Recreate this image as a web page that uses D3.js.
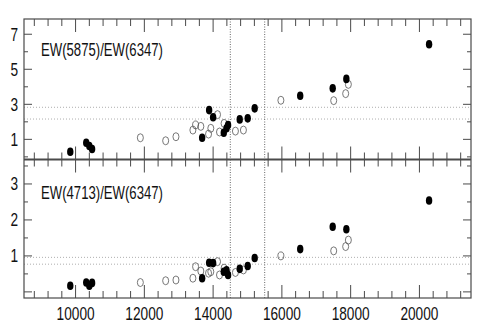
<!DOCTYPE html>
<html>
<head>
<meta charset="utf-8">
<script src="https://cdn.jsdelivr.net/npm/d3@7"></script>
<style>
  body { margin: 0; background: #fff; }
  svg { display: block; }
  text { font-family: "Liberation Sans", Arial, sans-serif; fill: #111; }
</style>
</head>
<body>
<div id="chart"></div>
<script>
// velocities of the filled (black) and open points, shared by both panels
const velFilled = [9846, 10310, 10400, 10480, 13681, 13884, 14000, 14310, 14390, 14435, 14774, 15006, 15209, 16533, 17478, 17875, 20281];
const velOpen   = [11884, 12620, 12919, 13412, 13490, 13643, 13867, 13933, 14128, 14186, 14319, 14649, 14881, 15971, 17507, 17855, 17933];

// EW(5875)/EW(6347)
const ratioTopFilled = [0.29, 0.81, 0.62, 0.45, 1.09, 2.67, 2.26, 1.38, 1.63, 1.82, 2.14, 2.20, 2.77, 3.49, 3.91, 4.45, 6.43];
const ratioTopOpen   = [1.09, 0.92, 1.15, 1.53, 1.82, 1.74, 1.30, 1.63, 2.41, 1.42, 1.91, 1.47, 1.53, 3.23, 3.21, 3.61, 4.14];

// EW(4713)/EW(6347)
const ratioBotFilled = [0.17, 0.26, 0.17, 0.25, 0.38, 0.81, 0.80, 0.56, 0.60, 0.47, 0.64, 0.72, 0.94, 1.19, 1.81, 1.74, 2.54];
const ratioBotOpen   = [0.26, 0.31, 0.33, 0.38, 0.70, 0.58, 0.52, 0.56, 0.84, 0.47, 0.66, 0.54, 0.61, 1.00, 1.14, 1.26, 1.44];

const xTickLabels = [10000, 12000, 14000, 16000, 18000, 20000];
const vLines = [14500, 15500];
const topRefLines = [2.83, 2.16];
const botRefLines = [0.96, 0.77];
const topYLabels = [1, 3, 5, 7];
const botYLabels = [1, 2, 3];

const W = 491, H = 327;
let m = { left: 24, right: 20, top: 19, bottom: 29 };
const mid = 159.5;
const frameColor = "#4a4a4a";

let svg = d3.select("#chart").append("svg")
    .attr("width", W)
    .attr("height", H);

let x = d3.scaleLinear().domain([8500, 21500]).range([m.left, W - m.right]);
let yTop = d3.scaleLinear().domain([-0.15, 7.87]).range([mid, m.top]);
let yBot = d3.scaleLinear().domain([-0.17, 3.68]).range([H - m.bottom, mid]);

// condensed-looking text (the original font is narrow)
function label(px, py, str, anchor, size, width) {
    let g = svg.append("g").attr("transform", "translate(" + px + "," + py + ") scale(0.76,1)");
    let t = g.append("text")
        .attr("text-anchor", anchor)
        .style("font-size", size + "px")
        .text(str);
    if (width) t.attr("textLength", width / 0.76).attr("lengthAdjust", "spacingAndGlyphs");
}

function panel(y, yTicks, isMajor, refLines, filledY, openY, yLabels, title, titleY) {
    let y0 = y.range()[0], y1 = y.range()[1];

    // dotted reference lines
    refLines.forEach((v) => {
        svg.append("line")
            .attr("x1", m.left).attr("x2", W - m.right)
            .attr("y1", y(v)).attr("y2", y(v))
            .attr("stroke", "#999")
            .attr("stroke-width", 0.8)
            .attr("stroke-dasharray", "1,2");
    });
    vLines.forEach((v) => {
        svg.append("line")
            .attr("x1", x(v)).attr("x2", x(v))
            .attr("y1", y1).attr("y2", y0)
            .attr("stroke", "#666")
            .attr("stroke-width", 1)
            .attr("stroke-dasharray", "1,1.5");
    });

    // x ticks on both edges of the panel, pointing inward
    d3.range(8800, 21500, 400).forEach((v) => {
        let len = (v % 2000 === 0) ? 13 : 7;
        svg.append("line")
            .attr("x1", x(v)).attr("x2", x(v))
            .attr("y1", y0).attr("y2", y0 - len)
            .attr("stroke", frameColor).attr("stroke-width", 1);
        svg.append("line")
            .attr("x1", x(v)).attr("x2", x(v))
            .attr("y1", y1).attr("y2", y1 + len)
            .attr("stroke", frameColor).attr("stroke-width", 1);
    });

    // y ticks left and right
    yTicks.forEach((v) => {
        let len = isMajor(v) ? 8 : 4;
        svg.append("line")
            .attr("x1", m.left).attr("x2", m.left + len)
            .attr("y1", y(v)).attr("y2", y(v))
            .attr("stroke", frameColor).attr("stroke-width", 1);
        svg.append("line")
            .attr("x1", W - m.right).attr("x2", W - m.right - len)
            .attr("y1", y(v)).attr("y2", y(v))
            .attr("stroke", frameColor).attr("stroke-width", 1);
    });

    yLabels.forEach((v) => {
        label(18, y(v) + 6.5, v, "end", 18);
    });

    // open points
    svg.append("g").selectAll("ellipse")
        .data(velOpen.map((d, i) => [d, openY[i]]))
        .enter().append("ellipse")
        .attr("cx", (d) => x(d[0]))
        .attr("cy", (d) => y(d[1]))
        .attr("rx", 3)
        .attr("ry", 4)
        .attr("fill", "none")
        .attr("stroke", "#555")
        .attr("stroke-width", 0.8);

    // filled points
    svg.append("g").selectAll("ellipse")
        .data(velFilled.map((d, i) => [d, filledY[i]]))
        .enter().append("ellipse")
        .attr("cx", (d) => x(d[0]))
        .attr("cy", (d) => y(d[1]))
        .attr("rx", 3.2)
        .attr("ry", 4.3)
        .attr("fill", "#000");

    label(41, titleY, title, "start", 18.5, 122);
}

panel(yTop, d3.range(0, 8, 1), (v) => v % 2 === 1, topRefLines,
      ratioTopFilled, ratioTopOpen, topYLabels, "EW(5875)/EW(6347)", 56);
panel(yBot, d3.range(0, 3.6, 0.5), (v) => Number.isInteger(v), botRefLines,
      ratioBotFilled, ratioBotOpen, botYLabels, "EW(4713)/EW(6347)", 199);

// frame
svg.append("rect")
    .attr("x", m.left).attr("y", m.top)
    .attr("width", W - m.left - m.right)
    .attr("height", H - m.top - m.bottom)
    .attr("fill", "none")
    .attr("stroke", frameColor)
    .attr("stroke-width", 1.2);
svg.append("line")
    .attr("x1", m.left).attr("x2", W - m.right)
    .attr("y1", mid).attr("y2", mid)
    .attr("stroke", frameColor)
    .attr("stroke-width", 2);

xTickLabels.forEach((v) => {
    label(x(v), 320, v, "middle", 18);
});
</script>
</body>
</html>
